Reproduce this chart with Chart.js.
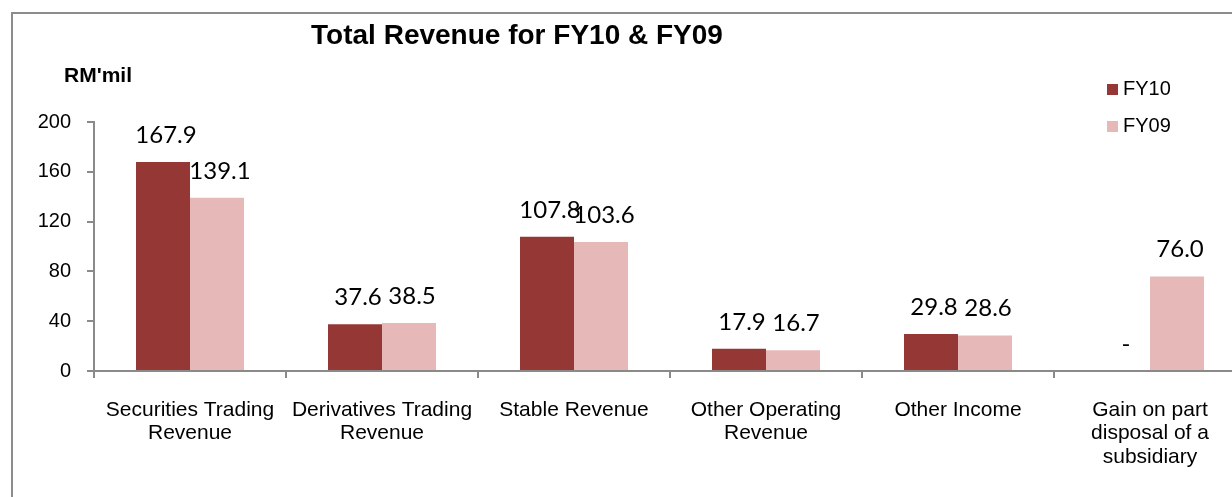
<!DOCTYPE html>
<html lang="en">
  <head>
    <meta charset="UTF-8" />
    <title>Total Revenue for FY10 &amp; FY09</title>
    <script src="https://cdn.jsdelivr.net/npm/chart.js@4.4.1/dist/chart.umd.min.js"></script>
    <style>
      body {
        margin: 0;
        width: 1232px;
        height: 497px;
        overflow: hidden;
        background: #fff;
        font-family: "Liberation Sans", Arial, sans-serif;
      }
      .frame {
        position: absolute;
        left: 11px;
        top: 12px;
        width: 1300px;
        height: 600px;
        border-left: 2px solid #8c8c8c;
        border-top: 2px solid #8c8c8c;
      }
      .chart-container {
        position: absolute;
        left: 0;
        top: 0;
        width: 1260px;
        height: 497px;
      }
      .title {
        position: absolute;
        left: 0;
        width: 1034px;
        top: 19px;
        text-align: center;
        font-weight: bold;
        font-size: 28px;
        line-height: 32px;
      }
      .unit {
        position: absolute;
        left: 64px;
        top: 63px;
        font-weight: bold;
        font-size: 21px;
        line-height: 24px;
      }
      .legend {
        position: absolute;
        left: 1107px;
        top: 75px;
        font-size: 20px;
      }
      .legend div {
        height: 37px;
        line-height: 26px;
      }
      .legend span {
        display: inline-block;
        width: 11px;
        height: 11px;
        margin-right: 5px;
      }
    </style>
  </head>
  <body>
    <div class="frame"></div>
    <div class="chart-container">
      <canvas id="revenue-chart"></canvas>
    </div>
    <div class="title">Total Revenue for FY10 &amp; FY09</div>
    <div class="unit">RM'mil</div>
    <div class="legend" id="legend"></div>
    <script>
      let categories = [
        ['Securities Trading', 'Revenue'],
        ['Derivatives Trading', 'Revenue'],
        ['Stable Revenue'],
        ['Other Operating', 'Revenue'],
        ['Other Income'],
        ['Gain on part', 'disposal of a', 'subsidiary']
      ];
      let fy10 = [167.9, 37.6, 107.8, 17.9, 29.8, 0];
      let fy09 = [139.1, 38.5, 103.6, 16.7, 28.6, 76.0];
      let yTicks = [0, 40, 80, 120, 160, 200];

      let axisColor = '#8a8a8a';
      let labelFont = { family: 'Liberation Sans', size: 20 };

      // numbers above the bars, "-" where the value is zero
      let valueLabels = {
        id: 'valueLabels',
        afterDatasetsDraw(chart) {
          let ctx = chart.ctx;
          ctx.save();
          ctx.font = '24px Lato';
          ctx.fillStyle = '#000';
          ctx.textAlign = 'center';
          ctx.textBaseline = 'alphabetic';
          chart.data.datasets.forEach((ds, i) => {
            chart.getDatasetMeta(i).data.forEach((bar, j) => {
              let v = ds.data[j];
              ctx.fillText(v === 0 ? '-' : v.toFixed(1), bar.x + 3, bar.y - 19);
            });
          });
          ctx.restore();
        }
      };

      let datasets = [
        { label: 'FY10', data: fy10, backgroundColor: '#953735' },
        { label: 'FY09', data: fy09, backgroundColor: '#e6b9b8' }
      ];

      new Chart('revenue-chart', {
        type: 'bar',
        data: { labels: categories, datasets: datasets },
        options: {
          responsive: true,
          maintainAspectRatio: false,
          animation: false,
          layout: { padding: { top: 122, right: 14, bottom: 0, left: 0 } },
          datasets: { bar: { categoryPercentage: 0.5625, barPercentage: 1 } },
          plugins: {
            legend: { display: false },
            tooltip: { enabled: false }
          },
          scales: {
            x: {
              afterFit: s => { s.height = 126; },
              border: { color: axisColor, width: 2 },
              grid: { drawOnChartArea: false, color: axisColor, lineWidth: 2, tickLength: 7 },
              ticks: {
                color: '#000',
                font: { family: 'Liberation Sans', size: 21, lineHeight: 1.13 },
                padding: 20,
                maxRotation: 0,
                autoSkip: false
              }
            },
            y: {
              min: 0,
              max: 200,
              afterFit: s => { s.width = 94; },
              afterBuildTicks: s => { s.ticks = yTicks.map(v => ({ value: v })); },
              border: { color: axisColor, width: 2 },
              grid: { drawOnChartArea: false, color: axisColor, lineWidth: 2, tickLength: 7 },
              ticks: { color: '#000', font: labelFont, padding: 16 }
            }
          }
        },
        plugins: [valueLabels]
      });

      let legend = document.getElementById('legend');
      datasets.forEach(ds => {
        let row = document.createElement('div');
        row.innerHTML = '<span style="background:' + ds.backgroundColor + '"></span>' + ds.label;
        legend.appendChild(row);
      });
    </script>
  </body>
</html>
